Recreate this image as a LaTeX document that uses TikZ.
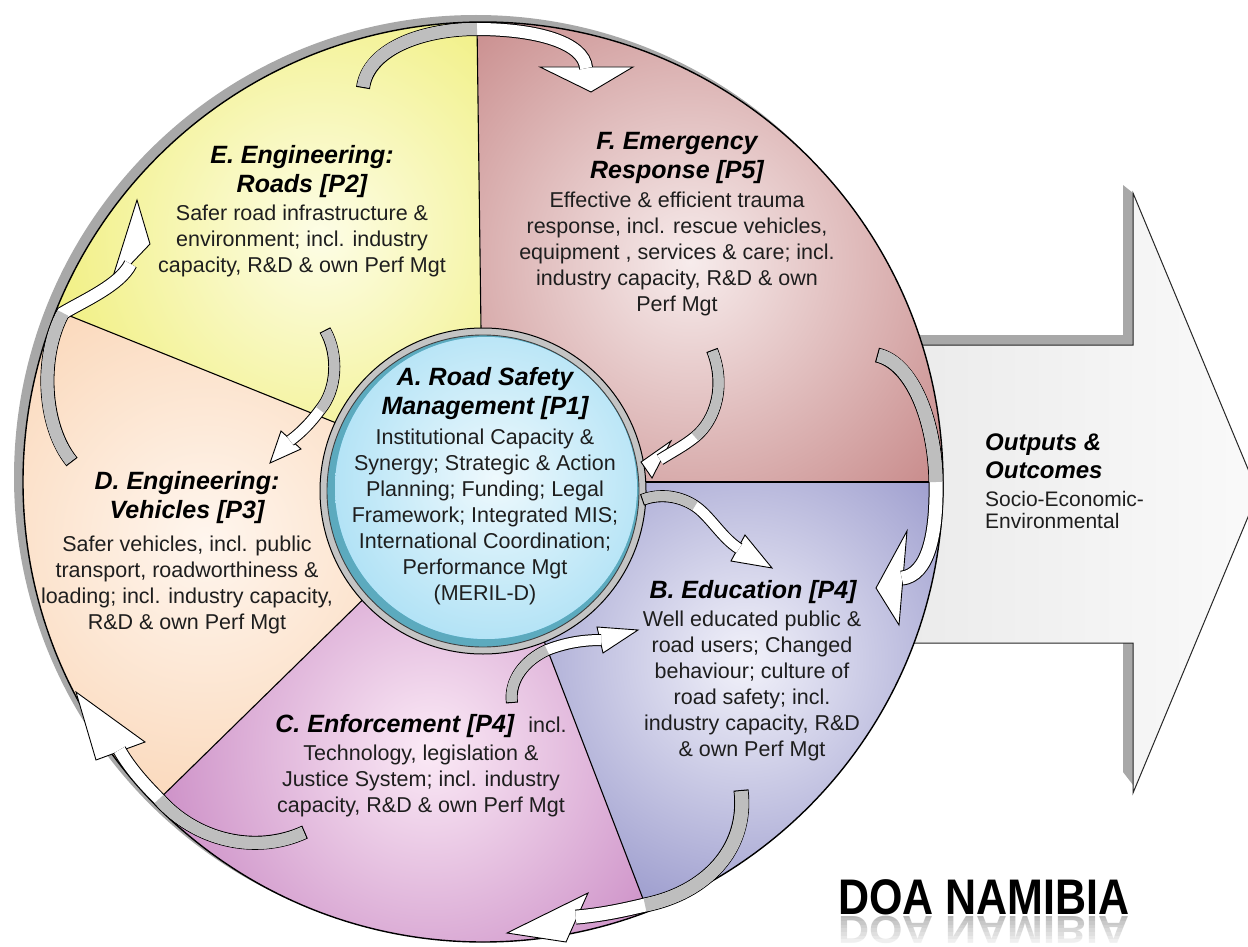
\documentclass[tikz,border=0pt]{standalone}
\usepackage{fontspec}
\setmainfont{Liberation Sans}
\usepackage{graphicx}
\definecolor{Fedge}{RGB}{168,72,72}
\definecolor{Fin}{RGB}{247,236,236}
\definecolor{Eedge}{RGB}{232,230,60}
\definecolor{Ein}{RGB}{253,253,230}
\definecolor{Dedge}{RGB}{247,196,152}
\definecolor{Din}{RGB}{255,246,238}
\definecolor{Cedge}{RGB}{178,92,172}
\definecolor{Cin}{RGB}{251,234,246}
\definecolor{Bedge}{RGB}{92,92,172}
\definecolor{Bin}{RGB}{242,242,250}
\definecolor{Aedge}{RGB}{118,204,238}
\definecolor{Ain}{RGB}{238,249,253}
\definecolor{Ashadow}{RGB}{92,170,190}
\definecolor{ringgrey}{RGB}{196,196,196}
\definecolor{rimshadow}{RGB}{168,168,168}
\definecolor{bandgrey}{RGB}{190,190,190}
\definecolor{txt}{RGB}{30,30,30}
\begin{document}
\begin{tikzpicture}[x=1pt, y=-1pt,
  body/.style={align=center, inner sep=0pt, text=txt, font=\fontsize{21.5}{26}\selectfont},
  ttl/.style={align=center, inner sep=0pt, text=black, font=\fontsize{25}{29}\selectfont\bfseries\itshape},
  sectline/.style={draw=black, line width=1.1pt},
  headst/.style={fill=white, draw=black, line width=0.9pt, line join=miter},
  bo/.style={draw=black, line width=#1, shorten >=-1.2pt},
  bw/.style={draw=white, line width=#1, shorten <=1.3pt, shorten >=-1.2pt},
  bg/.style={draw=bandgrey, line width=#1, shorten <=1.3pt},
]
\useasboundingbox (0,0) rectangle (1248,947);

% ---------- big output arrow ----------
\shade[left color=black!8, right color=black!2] (900,345) -- (1133,345) -- (1133,193) -- (1258,493) -- (1133,793) -- (1133,643) -- (900,643) -- cycle;
\fill[rimshadow] (900,335) -- (1123,335) -- (1123,185) -- (1133,193) -- (1133,345) -- (900,345) -- cycle;
\fill[rimshadow] (1123,643) -- (1133,643) -- (1133,785) -- (1123,772) -- cycle;
\draw[black!85, line width=1pt, line join=miter] (900,345) -- (1133,345) -- (1133,193) -- (1258,493) -- (1133,793) -- (1133,643) -- (900,643);

% ---------- outer circle ----------
\fill[rimshadow] (476,477) circle[radius=462];
\fill[Fedge] (483,482) -- ++(-90.75:460) arc[start angle=-90.75, end angle=0, radius=460] -- cycle;
\fill[Bedge] (483,482) -- ++(0:460) arc[start angle=0, end angle=69, radius=460] -- cycle;
\fill[Cedge] (483,482) -- ++(69:460) arc[start angle=69, end angle=135.6, radius=460] -- cycle;
\fill[Dedge] (483,482) -- ++(135.6:460) arc[start angle=135.6, end angle=201.9, radius=460] -- cycle;
\fill[Eedge] (483,482) -- ++(201.9:460) arc[start angle=201.9, end angle=269.25, radius=460] -- cycle;
\begin{scope}
\clip (483,482) -- ++(-90.75:460) arc[start angle=-90.75, end angle=0, radius=460] -- cycle;
\shade[inner color=Fin, outer color=Fedge] (690,262) circle[radius=560];
\end{scope}
\begin{scope}
\clip (483,482) -- ++(0:460) arc[start angle=0, end angle=69, radius=460] -- cycle;
\shade[inner color=Bin, outer color=Bedge] (745,660) circle[radius=470];
\end{scope}
\begin{scope}
\clip (483,482) -- ++(69:460) arc[start angle=69, end angle=135.6, radius=460] -- cycle;
\shade[inner color=Cin, outer color=Cedge] (430,750) circle[radius=440];
\end{scope}
\begin{scope}
\clip (483,482) -- ++(135.6:460) arc[start angle=135.6, end angle=201.9, radius=460] -- cycle;
\shade[inner color=Din, outer color=Dedge] (205,540) circle[radius=460];
\end{scope}
\begin{scope}
\clip (483,482) -- ++(201.9:460) arc[start angle=201.9, end angle=269.25, radius=460] -- cycle;
\shade[inner color=Ein, outer color=Eedge] (320,235) circle[radius=470];
\end{scope}
\draw[sectline] (483,482) -- ++(-90.75:460);
\draw[sectline] (483,482) -- ++(0:460);
\draw[sectline] (483,482) -- ++(69:460);
\draw[sectline] (483,482) -- ++(135.6:460);
\draw[sectline] (483,482) -- ++(201.9:460);
\draw[black, line width=1.4pt] (483,482) circle[radius=460];

% ---------- inner circle A ----------
\filldraw[fill=ringgrey, draw=black, line width=1pt] (483,491) circle[radius=163];
\fill[Ashadow] (483,491) circle[radius=156];
\begin{scope}
\clip (486,488) circle[radius=151];
\fill[Aedge] (486,488) circle[radius=151];
\shade[inner color=Ain, outer color=Aedge] (495,478) circle[radius=330];
\end{scope}
\draw[black!75, line width=0.9pt] (483,491) circle[radius=156];

% ---------- curved arrows ----------
% 1: E -> F (top)
\draw[headst] (540,67) -- (591,92) -- (633,67) -- cycle;
\draw[bo=14pt] (363,88) .. controls (368,50) and (420,29) .. (477,29) .. controls (535,29) and (584,42) .. (586,67);
\draw[bw=12pt] (363,88) .. controls (368,50) and (420,29) .. (477,29) .. controls (535,29) and (584,42) .. (586,67);
\draw[bg=12pt] (363,88) .. controls (368,50) and (420,29) .. (477,29);
% 2: F -> B (right)
\draw[headst] (907,531) -- (876,588) -- (899,625) -- cycle;
\draw[bo=15pt] (877,355) .. controls (912,363) and (935,420) .. (936,482) .. controls (937,535) and (928,575) .. (903,578);
\draw[bw=13pt] (877,355) .. controls (912,363) and (935,420) .. (936,482) .. controls (937,535) and (928,575) .. (903,578);
\draw[bg=13pt] (877,355) .. controls (912,363) and (935,420) .. (936,482);
% 3: B -> C (bottom right)
\draw[headst] (588,893) -- (507,933) -- (566,942) -- cycle;
\draw[bo=15pt] (741,790) .. controls (748,850) and (705,893) .. (645,905) .. controls (620,911) and (600,915) .. (577,917);
\draw[bw=13pt] (741,790) .. controls (748,850) and (705,893) .. (645,905) .. controls (620,911) and (600,915) .. (577,917);
\draw[bg=13pt] (741,790) .. controls (748,850) and (705,893) .. (645,905);
% 4: C -> D (bottom left)
\draw[headst] (145,742) -- (76,692) -- (96,760) -- cycle;
\draw[bo=14pt] (305,832) .. controls (255,855) and (195,840) .. (159,799) .. controls (140,780) and (128,765) .. (120,751);
\draw[bw=12pt] (305,832) .. controls (255,855) and (195,840) .. (159,799) .. controls (140,780) and (128,765) .. (120,751);
\draw[bg=12pt] (305,832) .. controls (255,855) and (195,840) .. (159,799);
% 5: D -> E (left)
\draw[headst] (150,244) -- (137,200) -- (110,286) -- cycle;
\draw[bo=14pt] (72,462) .. controls (42,425) and (40,355) .. (63,313) .. controls (85,300) and (120,285) .. (130,265);
\draw[bw=12pt] (72,462) .. controls (42,425) and (40,355) .. (63,313) .. controls (85,300) and (120,285) .. (130,265);
\draw[bg=12pt] (72,462) .. controls (42,425) and (40,355) .. (63,313);
% 6: F -> A
\draw[headst] (671,441) -- (641,462) -- (652,478) -- cycle;
\draw[bo=12pt] (712,350) .. controls (726,385) and (716,420) .. (695,437) .. controls (684,446) and (672,452) .. (661,459);
\draw[bw=10pt] (712,350) .. controls (726,385) and (716,420) .. (695,437) .. controls (684,446) and (672,452) .. (661,459);
\draw[bg=10pt] (712,350) .. controls (726,385) and (716,420) .. (695,437);
% 7: A -> B
\draw[headst] (745,535) -- (772,568) -- (731,561) -- cycle;
\draw[bo=12pt] (642,500) .. controls (660,493) and (680,496) .. (695,506) .. controls (710,516) and (722,538) .. (738,548);
\draw[bw=10pt] (642,500) .. controls (660,493) and (680,496) .. (695,506) .. controls (710,516) and (722,538) .. (738,548);
\draw[bg=10pt] (642,500) .. controls (660,493) and (680,496) .. (695,506);
% 8: C -> B
\draw[headst] (597,627) -- (638,630) -- (603,653) -- cycle;
\draw[bo=12pt] (512,703) .. controls (509,680) and (525,660) .. (547,650) .. controls (565,643) and (582,640) .. (600,640);
\draw[bw=10pt] (512,703) .. controls (509,680) and (525,660) .. (547,650) .. controls (565,643) and (582,640) .. (600,640);
\draw[bg=10pt] (512,703) .. controls (509,680) and (525,660) .. (547,650);
% 9: E -> D
\draw[headst] (301,449) -- (270,463) -- (281,431) -- cycle;
\draw[bo=12pt] (325,330) .. controls (339,355) and (337,390) .. (320,410) .. controls (312,421) and (302,432) .. (291,440);
\draw[bw=10pt] (325,330) .. controls (339,355) and (337,390) .. (320,410) .. controls (312,421) and (302,432) .. (291,440);
\draw[bg=10pt] (325,330) .. controls (339,355) and (337,390) .. (320,410);

% ---------- texts ----------
\node[ttl] (Et) at (302,172) {E. Engineering:\\Roads [P2]};
\node[body] (Eb) at (302,241) {Safer road infrastructure \&\\environment; incl. industry\\capacity, R\&D \& own Perf Mgt};
\node[ttl] (Ft) at (677,158) {F. Emergency\\Response [P5]};
\node[body] (Fb) at (677,254) {Effective \& efficient trauma\\response, incl. rescue vehicles,\\equipment , services \& care; incl.\\industry capacity, R\&D \& own\\Perf Mgt};
\node[ttl] (At) at (485,394) {A. Road Safety\\Management [P1]};
\node[body] (Ab) at (485,517) {Institutional Capacity \&\\Synergy; Strategic \& Action\\Planning; Funding; Legal\\Framework; Integrated MIS;\\International Coordination;\\Performance Mgt\\(MERIL-D)};
\node[ttl] (Dt) at (187,498) {D. Engineering:\\Vehicles [P3]};
\node[body] (Db) at (187,585) {Safer vehicles, incl. public\\transport, roadworthiness \&\\loading; incl. industry capacity,\\R\&D \& own Perf Mgt};
\node[ttl] (Bt) at (753,592) {B. Education [P4]};
\node[body] (Bb) at (752,686) {Well educated public \&\\road users; Changed\\behaviour; culture of\\road safety; incl.\\industry capacity, R\&D\\\& own Perf Mgt};
\node[body] (Cb) at (421,766) {{\fontsize{25}{29}\selectfont\bfseries\itshape\color{black}C. Enforcement [P4]}\hspace{14pt}incl.\\[2pt]Technology, legislation \&\\Justice System; incl. industry\\capacity, R\&D \& own Perf Mgt};
\node[anchor=west, align=left, inner sep=0pt, font=\fontsize{24}{28}\selectfont\bfseries\itshape] (Ot) at (985,456) {Outputs \&\\Outcomes};
\node[anchor=west, align=left, inner sep=0pt, text=txt, font=\fontsize{21}{22}\selectfont] (Ob) at (985,510) {Socio-Economic-\\Environmental};

% ---------- logo text ----------
\node[anchor=base, inner sep=0pt, text=gray!55, font=\fontsize{50}{50}\selectfont\bfseries] (doar) at (984,916) {\scalebox{0.86}[-0.78]{DOA NAMIBIA}};
\foreach \i [evaluate=\i as \op using \i/9] in {1,...,8} {
  \fill[white, opacity=\op] (820,914+\i*3.6) rectangle (1150,917.6+\i*3.6);
}
\node[anchor=base, inner sep=0pt, text=black, font=\fontsize{50}{50}\selectfont\bfseries] (doa) at (984,914) {\scalebox{0.86}[1]{DOA NAMIBIA}};
\end{tikzpicture}
\end{document}
